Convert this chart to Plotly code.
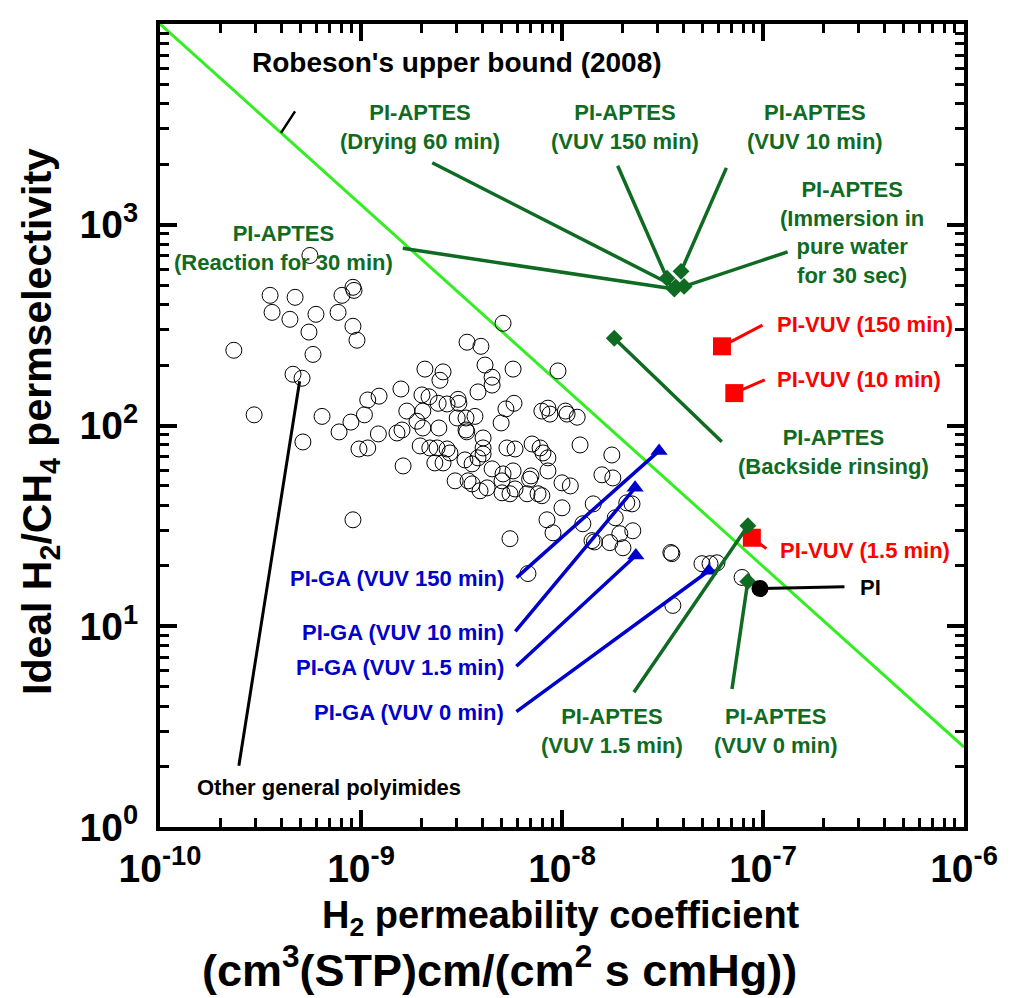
import math
import plotly.graph_objects as go

# ---------------- data ----------------
robeson_x = [1e-10, 1e-6]
robeson_y = [1e4, 2.5]

other_x = [5.57e-10, 3.53e-10, 4.70e-10, 3.61e-10, 4.43e-10, 5.97e-10, 5.51e-10, 5.77e-10, 2.33e-10, 8.04e-10,
           9.12e-10, 9.23e-10, 7.69e-10, 9.12e-10, 9.55e-10, 4.59e-10, 5.09e-10, 2.94e-10, 6.40e-10, 5.14e-10,
           7.78e-10, 8.91e-10, 1.04e-9, 1.08e-9, 1.23e-9, 1.58e-9, 1.69e-9, 1.22e-9, 9.77e-10, 1.08e-9,
           1.51e-9, 1.60e-9, 1.62e-9, 9.12e-10, 5.09e-9, 3.37e-9, 3.95e-9, 4.14e-9, 5.71e-9, 4.49e-9,
           4.49e-9, 2.08e-9, 2.56e-9, 2.47e-9, 2.01e-9, 2.18e-9, 2.42e-9, 2.68e-9, 3.04e-9, 3.07e-9,
           3.82e-9, 2.03e-9, 1.90e-9, 2.03e-9, 2.44e-9, 3.01e-9, 3.33e-9, 3.69e-9, 3.33e-9, 3.36e-9,
           5.26e-9, 5.77e-9, 4.98e-9, 4.05e-9, 4.05e-9, 4.05e-9, 1.97e-9, 2.20e-9, 2.39e-9, 2.68e-9,
           2.77e-9, 2.33e-9, 2.56e-9, 3.29e-9, 3.57e-9, 3.82e-9, 4.49e-9, 5.09e-9, 5.71e-9, 2.94e-9,
           3.41e-9, 3.57e-9, 3.91e-9, 4.24e-9, 5.03e-9, 5.03e-9, 5.51e-9, 5.84e-9, 5.32e-9, 5.84e-9,
           7.10e-9, 7.78e-9, 8.04e-9, 8.51e-9, 8.51e-9, 7.01e-9, 6.90e-9, 6.70e-9, 7.60e-9, 7.94e-9,
           1.00e-8, 1.10e-8, 9.55e-9, 7.94e-9, 8.51e-9, 8.71e-9, 1.04e-8, 1.06e-8, 1.19e-8, 1.23e-8,
           1.77e-8, 1.58e-8, 1.79e-8, 1.00e-8, 1.43e-8, 8.42e-9, 9.02e-9, 5.51e-9, 1.27e-8, 1.41e-8,
           1.45e-8, 1.73e-8, 1.84e-8, 1.94e-8, 2.10e-8, 2.23e-8, 2.25e-8, 2.01e-8, 6.77e-9, 3.52e-8,
           3.48e-8, 4.97e-8, 5.45e-8, 5.90e-8, 7.87e-8, 3.56e-8]
other_y = [703, 445, 435, 366, 338, 358, 292, 226, 237, 445,
           488, 471, 366, 312, 266, 180, 172, 113, 111, 82.8,
           92.9, 104, 113, 134, 140, 152, 118, 90.8, 76.4, 77.3,
           91.8, 95.0, 62.9, 33.9, 323, 260, 248, 200, 191, 174,
           159, 191, 185, 168, 142, 139, 129, 128, 135, 129,
           147, 118, 105, 97.2, 97.2, 109, 109, 111, 95.0, 93.0,
           121, 129, 103, 86.7, 77.3, 72.1, 79.1, 77.3, 77.3, 76.4,
           73.0, 65.1, 65.1, 67.4, 64.4, 69.0, 60.8, 57.4, 59.4, 53.0,
           53.0, 51.2, 47.3, 48.9, 53.0, 46.2, 45.7, 48.3, 77.3, 76.4,
           80.9, 77.3, 73.0, 69.0, 59.4, 56.1, 54.0, 45.7, 45.7, 44.7,
           51.8, 50.0, 187, 118, 122, 114, 118, 114, 110, 80.0,
           71.3, 56.8, 54.8, 38.9, 40.7, 33.9, 29.2, 27.3, 32.4, 26.7,
           26.3, 26.1, 34.7, 28.9, 41.2, 40.7, 29.9, 24.6, 18.3, 23.0,
           23.3, 20.5, 20.5, 20.7, 17.5, 12.7]

pi_x = [9.66e-8]
pi_y = [15.4]

pivuv_labels = ["PI-VUV (150 min)", "PI-VUV (10 min)", "PI-VUV (1.5 min)"]
pivuv_x = [6.25e-8, 7.2e-8, 8.8e-8]
pivuv_y = [248, 145, 27.6]

aptes_labels = ["PI-APTES<br>(Drying 60 min)", "PI-APTES<br>(VUV 150 min)", "PI-APTES<br>(VUV 10 min)",
                "PI-APTES<br>(Immersion in<br>pure water<br>for 30 sec)", "PI-APTES<br>(Reaction for 30 min)",
                "PI-APTES<br>(Backside rinsing)", "PI-APTES<br>(VUV 1.5 min)", "PI-APTES<br>(VUV 0 min)"]
aptes_x = [3.68e-8, 3.33e-8, 3.91e-8, 4.05e-8, 3.62e-8, 1.82e-8, 8.41e-8, 8.4e-8]
aptes_y = [490, 541, 586, 493, 478, 272, 31.7, 16.7]

ga_labels = ["PI-GA (VUV 150 min)", "PI-GA (VUV 10 min)", "PI-GA (VUV 1.5 min)", "PI-GA (VUV 0 min)"]
ga_x = [3.04e-8, 2.31e-8, 2.33e-8, 5.38e-8]
ga_y = [74.7, 48.9, 22.5, 18.9]

x_tick_vals = [1e-10, 1e-9, 1e-8, 1e-7, 1e-6]
x_tick_text = ["10<sup>-10</sup>", "10<sup>-9</sup>", "10<sup>-8</sup>", "10<sup>-7</sup>", "10<sup>-6</sup>"]
y_tick_vals = [1, 10, 100, 1000, 10000]
y_tick_text = ["10<sup>0</sup>", "10<sup>1</sup>", "10<sup>2</sup>", "10<sup>3</sup>", "10<sup>4</sup>"]

# ---------------- styling ----------------
GREEN_LINE = "#33EE22"
DGREEN = "#0F6A22"
BLUE = "#0000CC"
RED = "#FF0000"
FONT = "Liberation Sans, Arial, sans-serif"

# plot-area geometry in page pixels (layout only)
OFF = 8
FIG_W, FIG_H = 1002, 990
L, R, T, B = 160, 964, 22, 827


def pxp(xp):
    return (xp - L) / (R - L)


def pyp(yp):
    return (B - yp) / (B - T)


def minor_positions(lo, hi):
    out = []
    for e in range(lo, hi):
        for m in range(2, 10):
            out.append(m * 10.0 ** e)
    return out


fig = go.Figure()

fig.add_trace(go.Scatter(x=robeson_x, y=robeson_y, mode="lines",
                         line=dict(color=GREEN_LINE, width=3), hoverinfo="skip", showlegend=False))
fig.add_trace(go.Scatter(x=other_x, y=other_y, mode="markers",
                         marker=dict(symbol="circle-open", size=16, color="black", line=dict(width=1)),
                         showlegend=False))
fig.add_trace(go.Scatter(x=ga_x, y=ga_y, mode="markers",
                         marker=dict(symbol="triangle-up", size=15, color=BLUE), showlegend=False))
fig.add_trace(go.Scatter(x=pivuv_x, y=pivuv_y, mode="markers",
                         marker=dict(symbol="square", size=18, color=RED), showlegend=False))
fig.add_trace(go.Scatter(x=aptes_x, y=aptes_y, mode="markers",
                         marker=dict(symbol="diamond", size=13, color=DGREEN), showlegend=False))
fig.add_trace(go.Scatter(x=pi_x, y=pi_y, mode="markers",
                         marker=dict(symbol="circle", size=17, color="black"), showlegend=False))

ann = []


def leader(x, y, dx, dy, color, width=3.5):
    # leader line from the data point to a pixel offset (dy positive = downward)
    ann.append(dict(x=math.log10(x), y=math.log10(y), xref="x", yref="y", ax=dx, ay=dy,
                    axref="pixel", ayref="pixel", text="", showarrow=True, arrowhead=0,
                    arrowwidth=width, arrowcolor=color, standoff=0, startstandoff=0))


def label(xp, yp, text, color, size=22, anchor="center"):
    ann.append(dict(x=pxp(xp), y=pyp(yp), xref="paper", yref="paper", text=text, showarrow=False,
                    xanchor=anchor, yanchor="middle", align="center",
                    font=dict(family=FONT, size=size, color=color, weight="bold")))


# APTES leaders and labels
aptes_offsets = [(-245, -125), (-50, -114), (46, -105), (105, -35), (-273, -41), (109, 105), (-115, 168), (-16, 109)]
aptes_pos = [(420, 125), (625, 125), (815, 125), (852, 231), (283, 247), (833, 451), (612, 731), (775, 731)]
for i in range(len(aptes_x)):
    leader(aptes_x[i], aptes_y[i], aptes_offsets[i][0], aptes_offsets[i][1], DGREEN)
    label(aptes_pos[i][0], aptes_pos[i][1], aptes_labels[i], DGREEN)

# PI-VUV
vuv_offsets = [(42, -22), (32, -14), (16, 12)]
vuv_pos = [(775, 323), (775, 378), (778, 550)]
for i in range(len(pivuv_x)):
    leader(pivuv_x[i], pivuv_y[i], vuv_offsets[i][0], vuv_offsets[i][1], RED, 3)
    label(vuv_pos[i][0], vuv_pos[i][1], pivuv_labels[i], RED, anchor="left")

# PI-GA
ga_offsets = [(-144, 128), (-121, 145), (-121, 112), (-194, 142)]
ga_pos = [(506, 578), (506, 632), (506, 667), (506, 712)]
for i in range(len(ga_x)):
    leader(ga_x[i], ga_y[i], ga_offsets[i][0], ga_offsets[i][1], BLUE, 3.5)
    label(ga_pos[i][0], ga_pos[i][1], ga_labels[i], BLUE, anchor="right")

# PI
leader(pi_x[0], pi_y[0], 86, -2, "black", 3)
label(858, 587, "PI", "black", anchor="left")

# Robeson label
leader(4.0e-10, 2870, 15, -23, "black", 2.5)
label(457, 61, "Robeson's upper bound (2008)", "black", size=28)

# Other polyimides
leader(4.95e-10, 166, -61, 386, "black", 3)
label(329, 787, "Other general polyimides", "black")

# axis titles
ann.append(dict(x=pxp(40), y=pyp(421), xref="paper", yref="paper", showarrow=False, textangle=-90,
                text="Ideal H<sub>2</sub>/CH<sub>4</sub> permselectivity", xanchor="center", yanchor="middle",
                font=dict(family=FONT, size=41, color="black", weight="bold")))
ann.append(dict(x=pxp(561), y=pyp(918), xref="paper", yref="paper", showarrow=False,
                text="H<sub>2</sub> permeability coefficient", xanchor="center", yanchor="middle",
                font=dict(family=FONT, size=38, color="black", weight="bold")))
ann.append(dict(x=pxp(499), y=pyp(967), xref="paper", yref="paper", showarrow=False,
                text="(cm<sup>3</sup>(STP)cm/(cm<sup>2</sup> s cmHg))", xanchor="center", yanchor="middle",
                font=dict(family=FONT, size=45, color="black", weight="bold")))

axis_common = dict(type="log", showgrid=False, zeroline=False, showline=True, linewidth=4, linecolor="black",
                   mirror="allticks", ticks="inside", ticklen=17, tickwidth=3.5, tickcolor="black",
                   tickfont=dict(family=FONT, size=39, color="black", weight="bold"))

fig.update_layout(
    width=FIG_W, height=FIG_H,
    margin=dict(l=L - OFF, r=FIG_W - (R - OFF), t=T - OFF, b=FIG_H - (B - OFF)),
    paper_bgcolor="white", plot_bgcolor="white",
    xaxis=dict(range=[-10, -6], tickmode="array", tickvals=x_tick_vals, ticktext=x_tick_text,
               ticklabelstandoff=4,
               minor=dict(ticks="inside", ticklen=9, tickwidth=3, tickcolor="black", showgrid=False,
                          tickmode="array", tickvals=minor_positions(-10, -6)),
               **axis_common),
    yaxis=dict(range=[0, 4], tickmode="array", tickvals=y_tick_vals, ticktext=y_tick_text,
               ticklabelstandoff=10,
               minor=dict(ticks="inside", ticklen=9, tickwidth=3, tickcolor="black", showgrid=False,
                          tickmode="array", tickvals=minor_positions(0, 4)),
               **axis_common),
    annotations=ann,
    showlegend=False,
)

fig.write_html("out.html")
